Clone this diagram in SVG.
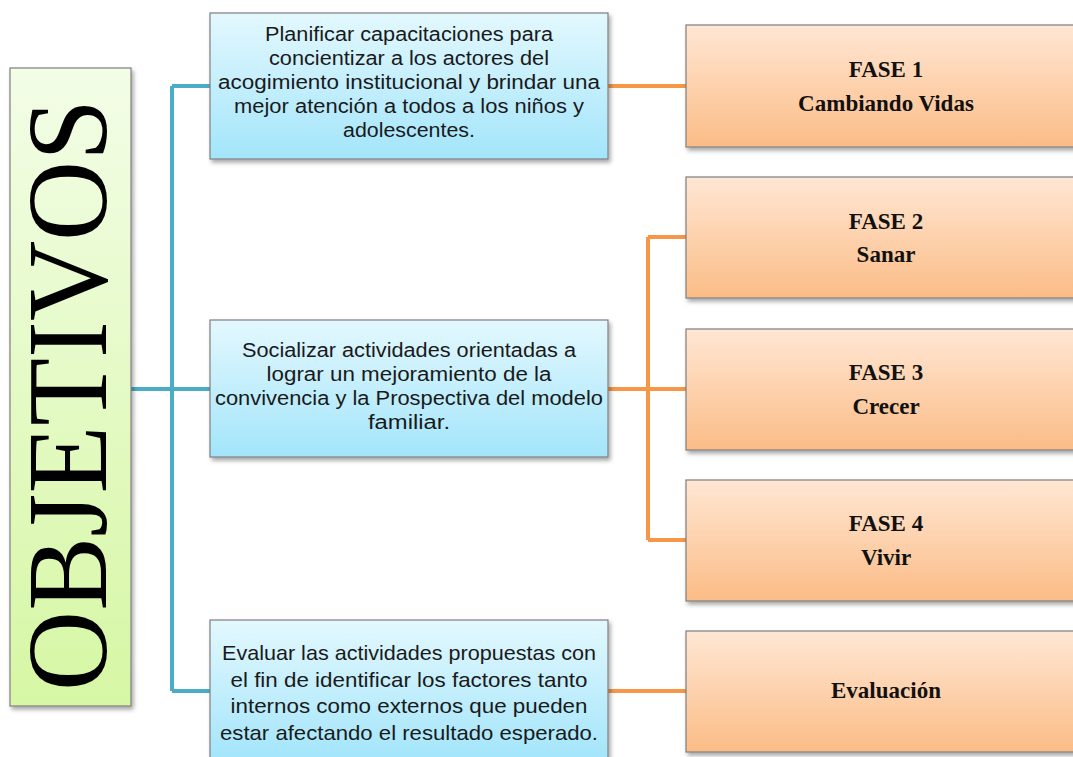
<svg xmlns="http://www.w3.org/2000/svg" width="1073" height="757" viewBox="0 0 1073 757">
<defs>
<linearGradient id="gBlue" x1="0" y1="0" x2="0" y2="1"><stop offset="0" stop-color="#E3F8FE"/><stop offset="1" stop-color="#A3E5FB"/></linearGradient>
<linearGradient id="gOrange" x1="0" y1="0" x2="0" y2="1"><stop offset="0" stop-color="#FFE7D4"/><stop offset="1" stop-color="#FBBC86"/></linearGradient>
<linearGradient id="gGreen" x1="0" y1="0" x2="0" y2="1"><stop offset="0" stop-color="#F3FDE7"/><stop offset="1" stop-color="#D6F7A4"/></linearGradient>
<filter id="sh" x="-10%" y="-10%" width="130%" height="130%"><feDropShadow dx="2" dy="3" stdDeviation="2" flood-color="#000" flood-opacity="0.35"/></filter>
<style>
.box{stroke:#7F7F7F;stroke-width:1.2;filter:url(#sh)}
.blue{fill:url(#gBlue)}
.orange{fill:url(#gOrange)}
.green{fill:url(#gGreen)}
.t{font-family:"Liberation Sans",Arial,sans-serif;font-size:20px;fill:#1a1a1a;text-anchor:middle}
.n{font-size:21px}
.b{font-family:"Liberation Serif","Times New Roman",serif;font-size:23px;font-weight:bold;fill:#111;text-anchor:middle}
.cb{fill:none;stroke:#4BACC6;stroke-width:4}
.co{fill:none;stroke:#F79646;stroke-width:4}
</style>
</defs>
<rect width="1073" height="757" fill="#fff"/>
<g id="connectors">
<path class="cb" d="M131 389 H210 M172 86 V691 M172 86 H210 M172 691 H210"/>
<path class="co" d="M608 86 H686 M608 389 H686 M648 237 V540 M648 237 H686 M648 540 H686 M608 691 H686"/>
</g>
<g id="objetivos">
<rect class="box green" x="10" y="68" width="121" height="638"/>
<text transform="translate(106,395) rotate(-90)" font-family="'Liberation Serif','Times New Roman',serif" font-size="114" fill="#000" text-anchor="middle" textLength="592" lengthAdjust="spacingAndGlyphs">OBJETIVOS</text>
</g>
<g id="obj1">
<rect class="box blue" x="210" y="13" width="398" height="146"/>
<text class="t" x="409" y="41" textLength="288" lengthAdjust="spacingAndGlyphs">Planificar capacitaciones para</text>
<text class="t" x="409" y="65" textLength="280" lengthAdjust="spacingAndGlyphs">concientizar a los actores del</text>
<text class="t" x="409" y="89" textLength="382" lengthAdjust="spacingAndGlyphs">acogimiento institucional y brindar una</text>
<text class="t" x="409" y="113" textLength="350" lengthAdjust="spacingAndGlyphs">mejor atención a todos a los niños y</text>
<text class="t" x="409" y="137" textLength="132" lengthAdjust="spacingAndGlyphs">adolescentes.</text>
</g>
<g id="obj2">
<rect class="box blue" x="210" y="320" width="398" height="137"/>
<text class="t" x="409" y="357" textLength="334" lengthAdjust="spacingAndGlyphs">Socializar actividades orientadas a</text>
<text class="t" x="409" y="381" textLength="285" lengthAdjust="spacingAndGlyphs">lograr un mejoramiento de la</text>
<text class="t" x="409" y="405" textLength="388" lengthAdjust="spacingAndGlyphs">convivencia y la Prospectiva del modelo</text>
<text class="t" x="409" y="429" textLength="82" lengthAdjust="spacingAndGlyphs">familiar.</text>
</g>
<g id="obj3">
<rect class="box blue" x="210" y="620" width="398" height="140"/>
<text class="t n" x="409" y="660" textLength="374" lengthAdjust="spacingAndGlyphs">Evaluar las actividades propuestas con</text>
<text class="t n" x="409" y="687" textLength="357" lengthAdjust="spacingAndGlyphs">el fin de identificar los factores tanto</text>
<text class="t n" x="409" y="713" textLength="357" lengthAdjust="spacingAndGlyphs">internos como externos que pueden</text>
<text class="t n" x="409" y="740" textLength="378" lengthAdjust="spacingAndGlyphs">estar afectando el resultado esperado.</text>
</g>
<g id="fase1">
<rect class="box orange" x="686" y="25" width="400" height="122"/>
<text class="b" x="886" y="77">FASE 1</text>
<text class="b" x="886" y="111">Cambiando  Vidas</text>
</g>
<g id="fase2">
<rect class="box orange" x="686" y="177" width="400" height="121"/>
<text class="b" x="886" y="229">FASE 2</text>
<text class="b" x="886" y="262">Sanar</text>
</g>
<g id="fase3">
<rect class="box orange" x="686" y="329" width="400" height="121"/>
<text class="b" x="886" y="380">FASE 3</text>
<text class="b" x="886" y="414">Crecer</text>
</g>
<g id="fase4">
<rect class="box orange" x="686" y="480" width="400" height="121"/>
<text class="b" x="886" y="531">FASE 4</text>
<text class="b" x="886" y="565">Vivir</text>
</g>
<g id="evaluacion">
<rect class="box orange" x="686" y="631" width="400" height="121"/>
<text class="b" x="886" y="698">Evaluación</text>
</g>
</svg>
